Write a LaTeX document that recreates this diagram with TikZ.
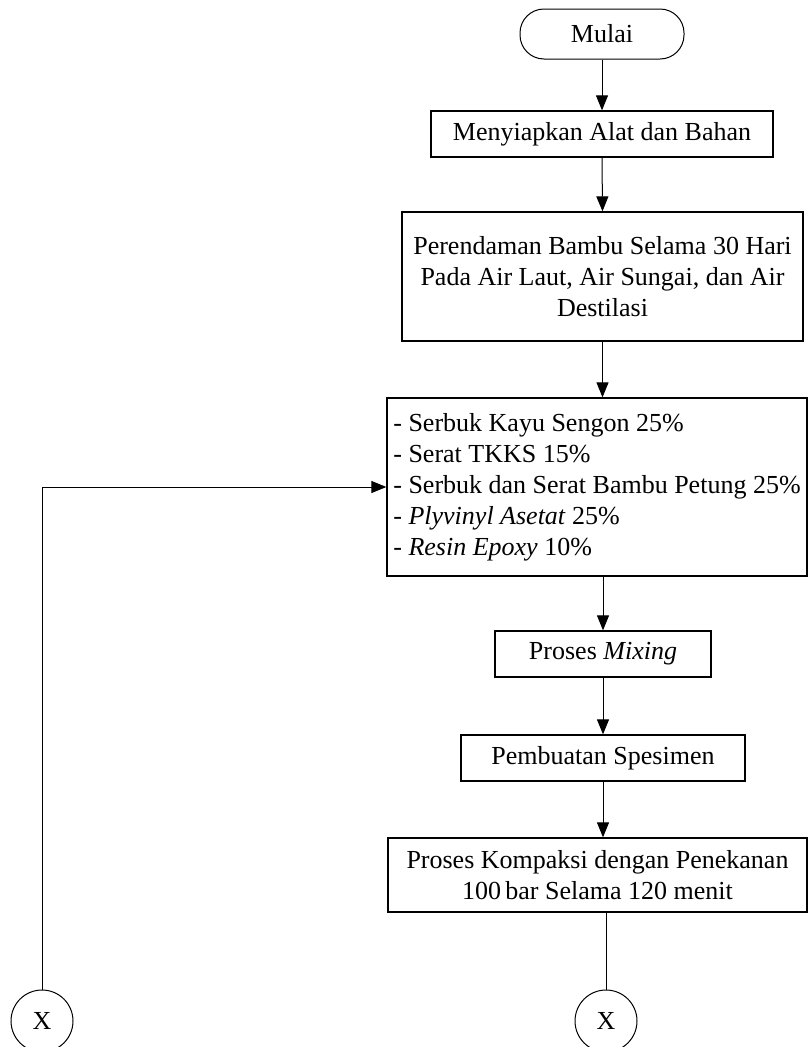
\documentclass[tikz,border=0pt]{standalone}
\usepackage{fontspec}
\setmainfont{Liberation Serif}
\usetikzlibrary{arrows.meta,calc}
\begin{document}
\begin{tikzpicture}[x=1pt,y=1pt,
  every node/.style={font=\fontsize{26}{31}\selectfont},
  box/.style={draw,line width=1.3pt,rectangle,inner sep=0pt,align=center},
  term/.style={draw,line width=1pt,rectangle,rounded corners=24pt,inner sep=0pt},
  conn/.style={draw,line width=1pt},
  arr/.style={conn,-{Triangle[length=15pt,width=12pt]}},
  xcirc/.style={draw,line width=1pt,circle,minimum size=62pt,inner sep=0pt}
]
\useasboundingbox (0,0) rectangle (808,-1047);
\node[term,minimum width=164pt,minimum height=50pt] (mulai) at (602,-34) {Mulai};
\node[box,minimum width=342pt,minimum height=46pt] (siap) at (602,-134) {Menyiapkan Alat dan Bahan};
\node[box,minimum width=401pt,minimum height=129pt] (rendam) at (602.5,-276.5)
  {Perendaman Bambu Selama 30 Hari\\Pada Air Laut, Air Sungai, dan Air\\Destilasi};
\node[box,minimum width=420pt,minimum height=178pt,align=left] (list) at (597,-487)
  {- Serbuk Kayu Sengon 25\%\\
   - Serat TKKS 15\%\\
   - Serbuk dan Serat Bambu Petung 25\%\\
   - \textit{Plyvinyl Asetat} 25\%\\
   - \textit{Resin Epoxy} 10\%};
\node[box,minimum width=216pt,minimum height=46pt] (mix) at (603,-654) {Proses \textit{Mixing}};
\node[box,minimum width=284pt,minimum height=46pt] (spes) at (603,-758) {Pembuatan Spesimen};
\node[box,minimum width=419pt,minimum height=74pt] (komp) at (597.5,-875)
  {Proses Kompaksi dengan Penekanan\\100\,bar Selama 120 menit};
\node[xcirc] (xl) at (42,-1021) {X};
\node[xcirc] (xr) at (606,-1021) {X};

\draw[arr] (mulai.south) -- (siap.north);
\draw[arr] (siap.south) -- (rendam.north);
\draw[arr] (rendam.south) -- (rendam.south |- list.north);
\draw[arr] (mix.north |- list.south) -- (mix.north);
\draw[arr] (mix.south) -- (spes.north);
\draw[arr] (spes.south) -- (spes.south |- komp.north);
\draw[conn] (xr.north |- komp.south) -- (xr.north);
\draw[arr] (xl.north) |- (list.west);
\end{tikzpicture}
\end{document}
